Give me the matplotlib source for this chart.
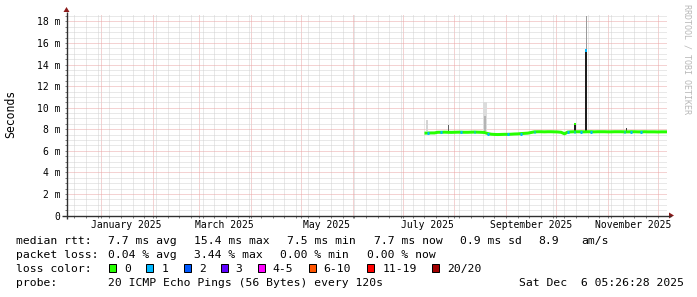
import numpy as np
import pandas as pd
import matplotlib
matplotlib.use("Agg")
import matplotlib.pyplot as plt
import matplotlib.dates as mdates
from matplotlib.patches import Rectangle, Polygon
from matplotlib.ticker import MultipleLocator, FuncFormatter
from datetime import datetime

# ---------------- data ----------------
x_start = datetime(2024, 12, 11, 5, 26, 28)
x_end = datetime(2025, 12, 6, 5, 26, 28)

median_dates = pd.date_range("2025-07-14", periods=74, freq="2D")
median_ms = [7.64, 7.65, 7.66, 7.66,
             7.72, 7.72, 7.73, 7.72, 7.71, 7.72, 7.73, 7.73, 7.72, 7.72, 7.73, 7.74, 7.73, 7.72, 7.70,
             7.60,
             7.54, 7.52, 7.51, 7.52, 7.53, 7.53, 7.54, 7.56, 7.57,
             7.60, 7.62, 7.64, 7.70,
             7.76, 7.77, 7.77, 7.76, 7.77, 7.77, 7.76, 7.75, 7.72,
             7.58,
             7.74, 7.76, 7.77, 7.77, 7.77, 7.76, 7.77, 7.77, 7.76, 7.77, 7.77, 7.77, 7.76, 7.76,
             7.77, 7.77, 7.77, 7.76, 7.76, 7.77, 7.77, 7.76, 7.76, 7.77, 7.76, 7.76, 7.76, 7.75,
             7.76, 7.76, 7.76]
loss_count = [0, 1, 0, 0, 0, 1, 0, 0, 0, 0, 0, 1, 0, 0, 0, 1, 0, 0, 0, 1,
              0, 0, 0, 0, 0, 1, 0, 0, 0, 1, 0, 0, 0, 1, 0, 0, 0, 0, 0, 0,
              0, 0, 0, 1, 0, 1, 0, 1, 0, 0, 1, 0, 0, 0, 0, 0, 0, 0, 0, 0,
              1, 0, 1, 0, 0, 1, 0, 0, 0, 0, 0, 0, 0, 0]

# smoke spikes (ping spread outliers)
spike_dates = ["2025-07-15 12:00", "2025-07-28 10:00", "2025-08-19 14:00", "2025-08-19 14:00",
               "2025-10-12 07:00", "2025-10-19 05:00", "2025-10-19 05:00", "2025-11-12 05:00"]
spike_lo = [7.8, 7.8, 7.8, 7.8, 7.7, 7.8, 15.4, 7.75]
spike_hi = [8.9, 8.4, 10.5, 9.2, 8.6, 15.4, 18.5, 8.1]

# legend texts
loss_labels = ["0", "1", "2", "3", "4-5", "6-10", "11-19", "20/20"]
loss_colors = ["#26ff00", "#00b8ff", "#0059ff", "#5e00ff", "#ff00ff", "#ff5500", "#ff0000", "#a10000"]
rtt_row = ["median rtt:", "7.7 ms avg", "15.4 ms max", "7.5 ms min", "7.7 ms now", "0.9 ms sd", "8.9", "am/s"]
loss_row = ["packet loss:", "0.04 % avg", "3.44 % max", "0.00 % min", "0.00 % now"]
probe_row = ["probe:", "20 ICMP Echo Pings (56 Bytes) every 120s"]
stamp = "Sat Dec  6 05:26:28 2025"
month_labels = ["2025-01-16", "2025-03-16", "2025-05-16", "2025-07-16", "2025-09-16", "2025-11-16"]

# ---------------- styles ----------------
MONO = "DejaVu Sans Mono"
W, H = 697, 297
PX = 0.72  # points per pixel at dpi 100
spike_widths_px = [2, 1, 4, 2, 2, 2, 1.5, 1]
spike_colors = ["#d4d4d4", "#606060", "#dcdcdc", "#b4b4b4", "#1e1e1e", "#1e1e1e", "#9a9a9a", "#404040"]
grid_minor = "#d2d2d2"
grid_major = "#eaa6a6"

fig = plt.figure(figsize=(W / 100, H / 100), dpi=100)
fig.patch.set_facecolor("white")

left_px, right_px, top_px, bot_px = 66.5, 666.5, 13.5, 215.5
ymax = (bot_px - top_px) / 10.78
ax = fig.add_axes([left_px / W, (H - bot_px) / H, (right_px - left_px) / W, (bot_px - top_px) / H])
ax.set_facecolor("white")
for s in ax.spines.values():
    s.set_visible(False)

x0, x1 = mdates.date2num(x_start), mdates.date2num(x_end)
ax.set_xlim(x0, x1)
ax.set_ylim(0, ymax)
days_per_px = (x1 - x0) / (right_px - left_px)

# grid
ax.yaxis.set_major_locator(MultipleLocator(2))
ax.yaxis.set_minor_locator(MultipleLocator(0.5))
ax.xaxis.set_major_locator(mdates.MonthLocator())
ax.xaxis.set_minor_locator(mdates.WeekdayLocator(byweekday=mdates.MO))
dash = (0, (1, 1))
ax.grid(which="minor", color=grid_minor, linestyle=dash, linewidth=PX)
ax.grid(which="major", color=grid_major, linestyle=dash, linewidth=PX)
ax.set_axisbelow(True)

ax.yaxis.set_major_formatter(FuncFormatter(lambda v, p: "0" if abs(v) < 1e-9 else f"{int(round(v))} m"))
ax.tick_params(axis="y", which="both", direction="out", length=2 * PX, width=PX, color="#808080",
               labelsize=7, pad=3.0, labelcolor="#000000")
ax.tick_params(axis="x", which="both", direction="out", length=2 * PX, width=PX, color="#808080",
               labelbottom=False)
for lab in ax.get_yticklabels():
    lab.set_family(MONO)

# median line: green base, short loss-coloured marks where pings were lost
xd = mdates.date2num(median_dates.to_pydatetime())
ax.plot(xd, median_ms, color=loss_colors[0], lw=3 * PX, solid_capstyle="butt", zorder=4)
for d, v, lcnt in zip(xd, median_ms, loss_count):
    if lcnt > 0:
        ax.plot([d - 0.8 * days_per_px, d + 0.8 * days_per_px], [v, v], color=loss_colors[lcnt],
                lw=3 * PX, solid_capstyle="butt", zorder=5)

# smoke spikes
sd = mdates.date2num(pd.to_datetime(spike_dates).to_pydatetime())
for d, lo, hi, wpx, c in zip(sd, spike_lo, spike_hi, spike_widths_px, spike_colors):
    ax.bar(d, hi - lo, bottom=lo, width=wpx * days_per_px, color=c, linewidth=0, zorder=3)
# median tips on the two dark spikes
ax.bar(sd[4], 0.25, bottom=spike_hi[4] - 0.25, width=2 * days_per_px, color=loss_colors[0], linewidth=0, zorder=5)
ax.bar(sd[5], 0.2, bottom=spike_hi[5] - 0.2, width=2 * days_per_px, color=loss_colors[1], linewidth=0, zorder=5)

# month labels centred mid-month
for m in month_labels:
    md = mdates.date2num(pd.Timestamp(m).to_pydatetime())
    ax.text(md, -(228 - bot_px) / 10.78, pd.Timestamp(m).strftime("%B %Y"), ha="center", va="baseline",
            family=MONO, fontsize=7, color="black", clip_on=False)

# ---------------- overlay in pixel coords ----------------
ov = fig.add_axes([0, 0, 1, 1], zorder=10)
ov.set_xlim(0, W)
ov.set_ylim(H, 0)
ov.axis("off")
ov.patch.set_alpha(0)

axis_col = "#303030"
ov.plot([left_px, left_px], [top_px - 2, bot_px + 3], color=axis_col, lw=1.0, solid_capstyle="butt")
ov.plot([62, right_px + 4], [bot_px, bot_px], color=axis_col, lw=1.0, solid_capstyle="butt")
arrow_col = "#8b1a1a"
ov.add_patch(Polygon([[left_px - 3, top_px - 1.5], [left_px + 3, top_px - 1.5], [left_px, top_px - 6.5]],
                     closed=True, color=arrow_col, lw=0))
ov.add_patch(Polygon([[right_px + 2.5, bot_px - 3], [right_px + 2.5, bot_px + 3], [right_px + 7.5, bot_px]],
                     closed=True, color=arrow_col, lw=0))

ov.text(10.5, 113.5, "Seconds", rotation=90, ha="center", va="center", family=MONO, fontsize=8.3, color="black")
ov.text(687.5, 4.5, "RRDTOOL / TOBI OETIKER", rotation=-90, ha="center", va="top", family=MONO,
        fontsize=6, color="#b8b8b8")

fs = 8.2
rows_y = [243.6, 257.7, 271.7, 285.9]
rtt_x = [16, 108.5, 193.7, 287, 373.7, 460, 538, 581.7]
for t, x in zip(rtt_row, rtt_x):
    ov.text(x, rows_y[0], t, ha="left", va="baseline", family=MONO, fontsize=fs, color="black")
loss_x = [16, 108.5, 193.7, 280, 367]
for t, x in zip(loss_row, loss_x):
    ov.text(x, rows_y[1], t, ha="left", va="baseline", family=MONO, fontsize=fs, color="black")
ov.text(16, rows_y[2], "loss color:", ha="left", va="baseline", family=MONO, fontsize=fs, color="black")
box_x = [108.7, 146, 183.5, 220.5, 257.6, 308.5, 367, 432]
for lab, c, bx in zip(loss_labels, loss_colors, box_x):
    ov.add_patch(Rectangle((bx, rows_y[2] - 7.3), 7.3, 7.3, facecolor=c, edgecolor="black", lw=0.72))
    ov.text(bx + 15.2, rows_y[2], lab, ha="left", va="baseline", family=MONO, fontsize=fs, color="black")
probe_x = [16, 108.5]
for t, x in zip(probe_row, probe_x):
    ov.text(x, rows_y[3], t, ha="left", va="baseline", family=MONO, fontsize=fs, color="black")
ov.text(684, rows_y[3], stamp, ha="right", va="baseline", family=MONO, fontsize=fs, color="black")

fig.savefig("out.png", dpi=100, facecolor="white")
